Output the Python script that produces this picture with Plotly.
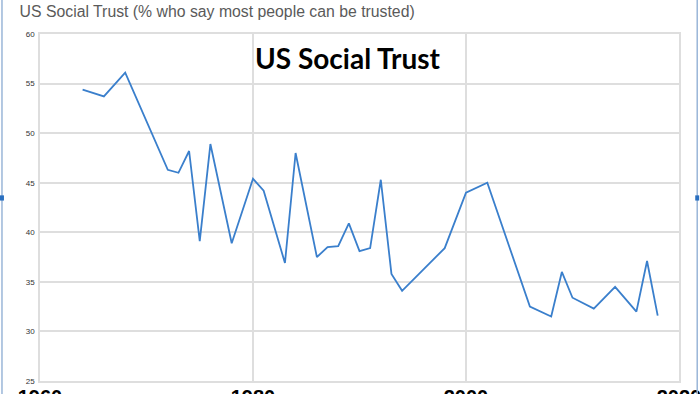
import plotly.graph_objects as go

years = [1964, 1966, 1968, 1972, 1973, 1974, 1975, 1976, 1978, 1980, 1981, 1983, 1984,
         1986, 1987, 1988, 1989, 1990, 1991, 1992, 1993, 1994, 1998, 2000, 2002, 2006,
         2008, 2009, 2010, 2012, 2014, 2016, 2017, 2018]
trust = [54.4, 53.7, 56.1, 46.3, 46.0, 48.2, 39.1, 48.9, 38.9, 45.4, 44.2, 36.9, 48.0,
         37.5, 38.5, 38.6, 40.9, 38.1, 38.4, 45.3, 35.8, 34.1, 38.4, 44.0, 45.0, 32.5,
         31.5, 36.0, 33.4, 32.3, 34.5, 32.0, 37.1, 31.6]

x_ticks = [1960, 1980, 2000, 2020]
y_ticks = [25, 30, 35, 40, 45, 50, 55, 60]

fig = go.Figure()
fig.add_trace(go.Scatter(x=years, y=trust, mode="lines",
                         line=dict(color="#3a7fcc", width=1.8), showlegend=False))

grid = "#dedede"
fig.update_layout(
    width=700, height=394,
    margin=dict(l=40, r=21, t=34, b=13),
    paper_bgcolor="white", plot_bgcolor="white",
    title=dict(text="US Social Trust (% who say most people can be trusted)",
               x=0.028, xanchor="left", y=0.972, yanchor="middle",
               font=dict(family="Liberation Sans, Arial", size=15.8, color="#5a5a5a")),
    xaxis=dict(range=[1960, 2020], tickvals=x_ticks, automargin=False,
               ticktext=["<b>%d</b>" % v for v in x_ticks],
               tickfont=dict(family="Liberation Sans, Arial", size=20, color="black"),
               showgrid=True, gridcolor=grid, gridwidth=1.5,
               showline=True, mirror=True, linecolor=grid, linewidth=1.5,
               ticks="outside", ticklen=3, tickcolor="rgba(0,0,0,0)",
               ticklabelstandoff=-6, ticklabeloverflow="allow", zeroline=False),
    yaxis=dict(range=[25, 60], tickvals=y_ticks, automargin=False,
               tickfont=dict(family="Liberation Sans, Arial", size=8, color="#333"),
               showgrid=True, gridcolor=grid, gridwidth=1.5,
               showline=True, mirror=True, linecolor=grid, linewidth=1.5,
               ticks="outside", ticklen=2, tickcolor="rgba(0,0,0,0)", zeroline=False),
)

fig.add_annotation(text="<b>US Social Trust</b>", xref="paper", yref="paper",
                   x=0.482, y=0.931, xanchor="center", yanchor="middle", showarrow=False,
                   font=dict(family="Lato, Open Sans", size=28, color="black"))

# frame selection handles at edges of the screenshot
for xp in [-0.0595, 1.0285]:
    fig.add_shape(type="line", xref="paper", yref="paper",
                  x0=xp, x1=xp, y0=-0.04, y1=1.1, line=dict(color="#9ab6d8", width=1.5))
fig.add_shape(type="rect", xref="paper", yref="paper", x0=-0.0626, x1=-0.0564, y0=0.52, y1=0.535,
              line=dict(width=0), fillcolor="#2a6fc0")
fig.add_shape(type="rect", xref="paper", yref="paper", x0=1.0254, x1=1.0316, y0=0.52, y1=0.535,
              line=dict(width=0), fillcolor="#2a6fc0")

fig.write_html("out.html", config={"displayModeBar": False},
               post_script="document.body.style.margin='0';document.body.style.overflow='hidden';")
